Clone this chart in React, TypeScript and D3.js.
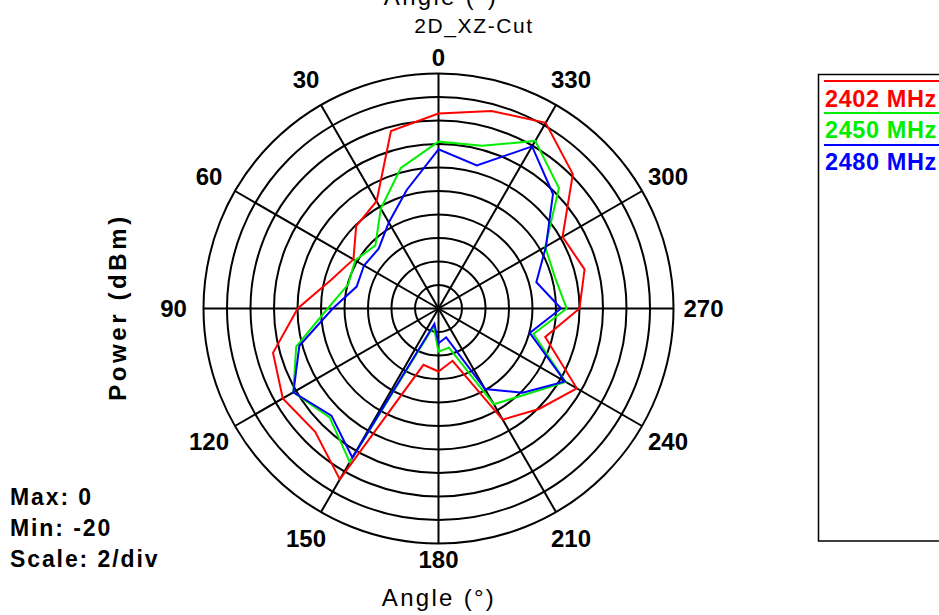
import React from 'react';
import * as d3 from 'd3';

// Angles (degrees, counter-clockwise from top as labelled on the chart)
const angleDeg = [0, 15, 30, 45, 60, 75, 90, 105, 120, 135, 150, 165, 180, 195, 210, 225, 240, 255, 270, 285, 300, 315, 330, 345];

// Power (dBm) per angle
const s2402 = [-3.4, -4.37, -9.46, -10.09, -11.64, -10.55, -8.02, -5.42, -4.7, -5.16, -3.21, -15.04, -14.64, -15.39, -9.08, -7.91, -6.41, -10.6, -8.0, -7.13, -7.81, -3.83, -1.76, -2.59];
const s2450 = [-5.8, -7.62, -10.19, -12.4, -11.81, -12.05, -10.57, -7.46, -5.74, -6.89, -4.9, -18.43, -16.32, -16.55, -10.59, -9.62, -7.51, -11.63, -9.09, -9.74, -9.51, -5.5, -3.53, -5.66];
const s2480 = [-6.45, -9.56, -11.54, -12.8, -12.68, -12.79, -11.0, -7.74, -5.74, -7.11, -5.35, -18.65, -17.04, -17.46, -12.08, -9.87, -7.57, -11.96, -9.57, -11.38, -9.44, -6.22, -4.07, -7.4];

const seriesNames = ['2402 MHz', '2450 MHz', '2480 MHz'];
const seriesColors = ['#ff0000', '#00ee00', '#0000ff'];
const seriesValues = [s2402, s2450, s2480];

const ringTicks = [-18, -16, -14, -12, -10, -8, -6, -4, -2, 0];
const spokeAngles = [0, 30, 60, 90, 120, 150, 180, 210, 240, 270, 300, 330];

const infoLines = ['Max: 0', 'Min: -20', 'Scale: 2/div'];

export default function App() {
  const W = 939, H = 615;
  const cx = 438.5, cy = 308.5, R = 235;
  const r = d3.scaleLinear().domain([-20, 0]).range([0, R]);
  const rad = (deg: number) => (deg * Math.PI) / 180;

  const line = d3
    .lineRadial<number>()
    .angle((_d, i) => -rad(angleDeg[i]))
    .radius((d) => r(d))
    .curve(d3.curveLinearClosed);

  const font = "'Liberation Sans', Arial, sans-serif";

  return (
    <svg width={W} height={H} style={{ position: 'absolute', left: 0, top: 0, background: '#fff' }} fontFamily={font}>
      <rect x={0} y={0} width={W} height={H} fill="#fff" />
      {/* top titles (the first is partly outside the top edge, as in the reference) */}
      <text x={441} y={5} textAnchor="middle" fontSize={24} letterSpacing={2.3}>Angle  (°)</text>
      <text x={474} y={33} textAnchor="middle" fontSize={21} letterSpacing={1.6}>2D_XZ-Cut</text>

      <g transform={`translate(${cx},${cy})`}>
        {ringTicks.map((t) => (
          <circle key={t} r={r(t)} fill="none" stroke="#000" strokeWidth={2} />
        ))}
        {spokeAngles.map((a) => (
          <line key={a} x1={0} y1={0} x2={-R * Math.sin(rad(a))} y2={-R * Math.cos(rad(a))} stroke="#000" strokeWidth={2} />
        ))}
        {seriesValues.map((vals, k) => (
          <path key={k} d={line(vals) || ''} fill="none" stroke={seriesColors[k]} strokeWidth={2} strokeLinejoin="miter" />
        ))}
        {spokeAngles.map((a) => {
          const lr = a === 0 || a === 180 ? 251 : 265;
          return (
            <text key={a} x={-lr * Math.sin(rad(a))} y={-lr * Math.cos(rad(a))} dy="0.36em" textAnchor="middle" fontSize={24} fontWeight="bold">
              {a}
            </text>
          );
        })}
      </g>

      {/* axis titles */}
      <text x={439} y={606} textAnchor="middle" fontSize={24} letterSpacing={2.3}>Angle  (°)</text>
      <text transform="translate(126,307) rotate(-90)" textAnchor="middle" fontSize={24} fontWeight="bold" letterSpacing={3.6}>Power  (dBm)</text>

      {/* info */}
      {infoLines.map((t, i) => (
        <text key={t} x={10} y={505 + i * 31} fontSize={23} fontWeight="bold" letterSpacing={1.9}>{t}</text>
      ))}

      {/* legend */}
      <rect x={818.5} y={74.5} width={200} height={466.5} fill="none" stroke="#000" strokeWidth={1.5} />
      {seriesNames.map((n, i) => (
        <g key={n}>
          <line x1={824} x2={W} y1={81 + i * 32} y2={81 + i * 32} stroke={seriesColors[i]} strokeWidth={2} />
          <text x={825} y={106.7 + i * 31.7} fill={seriesColors[i]} fontSize={23.5} fontWeight="bold" letterSpacing={0.6}>{n}</text>
        </g>
      ))}
    </svg>
  );
}
